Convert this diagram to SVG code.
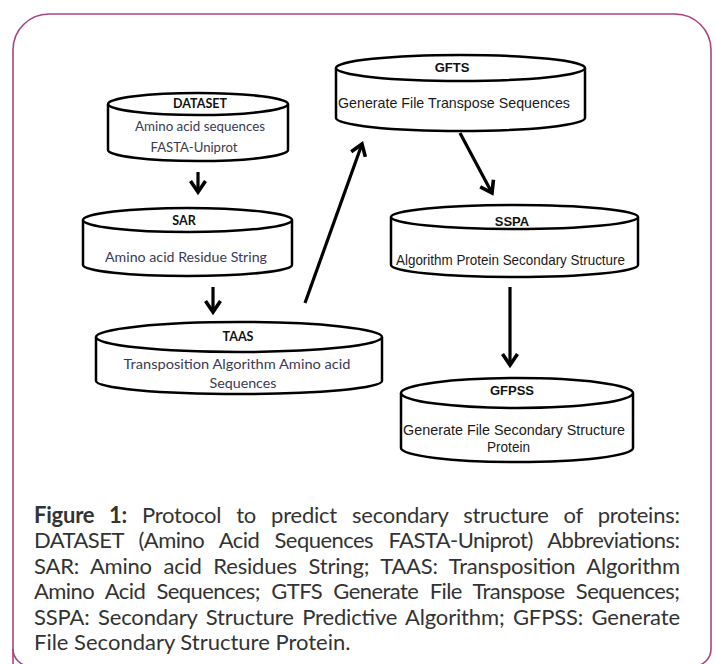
<svg xmlns="http://www.w3.org/2000/svg" width="715" height="664" viewBox="0 0 715 664">
<defs>
<style>
.cyl{fill:#fff;stroke:#000;stroke-width:2.5}
.lab{font-family:Lato,"Open Sans",sans-serif;font-weight:bold;font-size:12.5px;fill:#111;text-anchor:middle}
.txt{font-family:Lato,"Open Sans",sans-serif;font-size:13px;fill:#3a3a55;text-anchor:middle}
.labA{font-family:"Liberation Sans",Arial,sans-serif;font-weight:bold;font-size:13px;fill:#111;text-anchor:middle}
.txtA{font-family:"Liberation Sans",Arial,sans-serif;font-size:15px;fill:#1a1a1a}
.conn{fill:none;stroke:#000;stroke-width:3.2;marker-end:url(#chev)}
.cap{font-family:Lato,"Open Sans",sans-serif;font-size:22px;fill:#333}
.capb{font-weight:bold}
</style>
<marker id="chev" markerUnits="userSpaceOnUse" markerWidth="30" markerHeight="30" refX="0" refY="0" viewBox="-15 -15 30 30" orient="auto" overflow="visible">
<path d="M-11,-7.5 L0,0 L-11,7.5" fill="none" stroke="#000" stroke-width="3.6" stroke-linejoin="miter"/>
</marker>
</defs>
<rect width="715" height="664" fill="#fff"/>
<path d="M13,666 L13,50 A36,36 0 0 1 49,14 L675,14 A36,36 0 0 1 711,50 L711,649" fill="none" stroke="#a8457f" stroke-width="1.6"/>
<path d="M13,649 A17,17 0 0 0 30,666 M711,649 A17,17 0 0 1 694,666" fill="none" stroke="#a8457f" stroke-width="1.6"/>

<g id="DATASET">
<path class="cyl" d="M108,104 L108,150 A90,11 0 0 0 288,150 L288,104"/>
<ellipse class="cyl" cx="198" cy="104" rx="90" ry="11"/>
<text class="lab" x="200" y="108">DATASET</text>
<text class="txt" x="200" y="131" textLength="130" lengthAdjust="spacingAndGlyphs">Amino acid sequences</text>
<text class="txt" x="194" y="152" textLength="87" lengthAdjust="spacingAndGlyphs">FASTA-Uniprot</text>
</g>

<g id="SAR">
<path class="cyl" d="M83,220 L83,265 A104.5,11 0 0 0 292,265 L292,220"/>
<ellipse class="cyl" cx="187.5" cy="220" rx="104.5" ry="12"/>
<text class="lab" x="184" y="225">SAR</text>
<text class="txt" x="186" y="262" textLength="162" lengthAdjust="spacingAndGlyphs">Amino acid Residue String</text>
</g>

<g id="TAAS">
<path class="cyl" d="M96,337 L96,381 A143,13 0 0 0 382,381 L382,337"/>
<ellipse class="cyl" cx="239" cy="337" rx="143" ry="15"/>
<text class="lab" x="238" y="341">TAAS</text>
<text class="txt" x="237" y="369" textLength="227" lengthAdjust="spacingAndGlyphs">Transposition  Algorithm Amino acid</text>
<text class="txt" x="243" y="388" textLength="67" lengthAdjust="spacingAndGlyphs">Sequences</text>
</g>

<g id="GFTS">
<path class="cyl" d="M336,68 L336,118 A124.5,13 0 0 0 585,118 L585,68"/>
<ellipse class="cyl" cx="460.5" cy="68" rx="124.5" ry="13"/>
<text class="labA" x="452" y="72">GFTS</text>
<text class="txtA" x="338" y="108" textLength="232" lengthAdjust="spacingAndGlyphs">Generate File  Transpose Sequences</text>
</g>

<g id="SSPA">
<path class="cyl" d="M391,217 L391,265 A123.5,12 0 0 0 638,265 L638,217"/>
<ellipse class="cyl" cx="514.5" cy="217" rx="123.5" ry="12"/>
<text class="labA" x="512" y="226">SSPA</text>
<text class="txtA" x="396" y="265" textLength="229" lengthAdjust="spacingAndGlyphs">Algorithm Protein Secondary Structure</text>
</g>

<g id="GFPSS">
<path class="cyl" d="M401,393 L401,448 A116,14 0 0 0 633,448 L633,393"/>
<ellipse class="cyl" cx="517" cy="393" rx="116" ry="15"/>
<text class="labA" x="512" y="395">GFPSS</text>
<text class="txtA" x="403" y="435" textLength="222" lengthAdjust="spacingAndGlyphs">Generate File Secondary  Structure</text>
<text class="txtA" x="487" y="452" textLength="43" lengthAdjust="spacingAndGlyphs">Protein</text>
</g>

<g id="connectors">
<line class="conn" x1="198" y1="172" x2="198" y2="192"/>
<line class="conn" x1="213" y1="287" x2="213" y2="312"/>
<line class="conn" x1="305" y1="303" x2="362" y2="144"/>
<line class="conn" x1="460" y1="133" x2="492" y2="193"/>
<line class="conn" x1="510" y1="287" x2="510" y2="365"/>
</g>

<g id="caption" class="cap">
<text x="34" y="523" word-spacing="9.6" textLength="646" lengthAdjust="spacing"><tspan class="capb">Figure 1:</tspan> Protocol to predict secondary structure of proteins:</text>
<text x="34" y="548" word-spacing="10.2" textLength="646" lengthAdjust="spacing">DATASET (Amino Acid Sequences FASTA-Uniprot) Abbreviations:</text>
<text x="34" y="574" word-spacing="6.2" textLength="646" lengthAdjust="spacing">SAR: Amino acid Residues String; TAAS: Transposition Algorithm</text>
<text x="34" y="599" word-spacing="6.2" textLength="646" lengthAdjust="spacing">Amino Acid Sequences; GTFS Generate File Transpose Sequences;</text>
<text x="34" y="625" word-spacing="3" textLength="646" lengthAdjust="spacing">SSPA: Secondary Structure Predictive Algorithm; GFPSS: Generate</text>
<text x="34" y="650">File Secondary Structure Protein.</text>
</g>
</svg>
